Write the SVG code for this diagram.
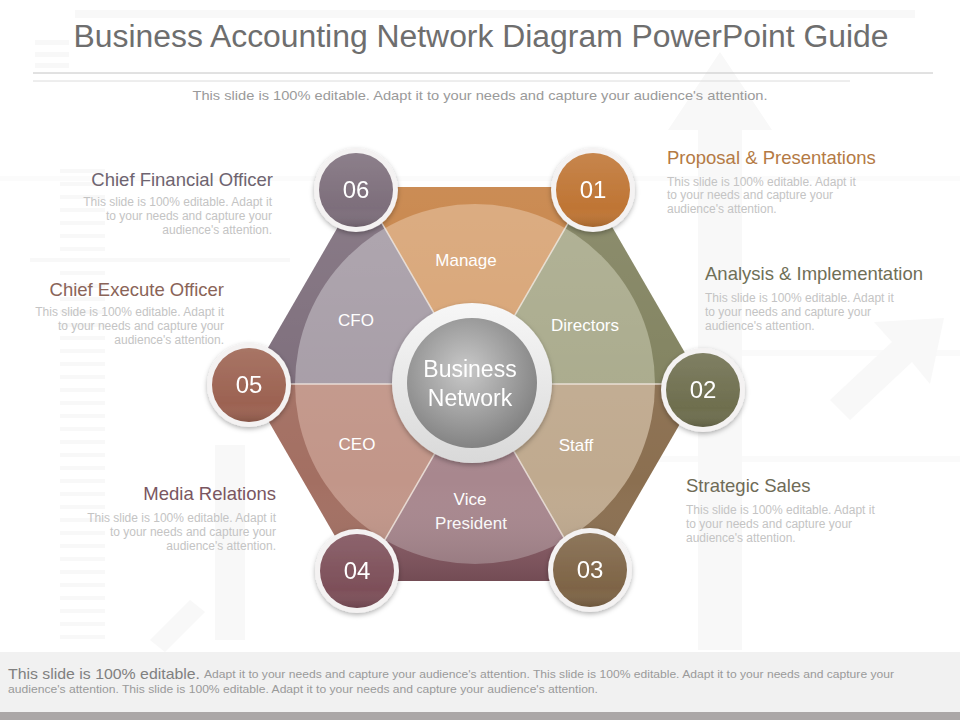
<svg xmlns="http://www.w3.org/2000/svg" width="960" height="720" viewBox="0 0 960 720">
<style>
text{font-family:"Liberation Sans",Arial,sans-serif}
.title{font-size:31px;fill:#6e6e6e}
.sub{font-size:13px;fill:#9a9a9a}
.head{font-size:18.5px}
.body{font-size:12px;fill:#c4c4c4}
.seg{font-size:17px;fill:#ffffff;text-anchor:middle}
.num{font-size:24px;fill:#ffffff;text-anchor:middle}
.ctr{font-size:23px;fill:#ffffff;text-anchor:middle}
.r{text-anchor:end}
.bg{fill:#f8f8f8}
.div{stroke:#f4ede6;stroke-width:1.5;opacity:0.8}
</style>
<defs>
<filter id="sh" x="-30%" y="-30%" width="160%" height="160%">
<feDropShadow dx="0" dy="2" stdDeviation="2.5" flood-color="#000" flood-opacity="0.3"/>
</filter>
<clipPath id="inner"><circle cx="475" cy="384" r="180"/></clipPath>
<radialGradient id="cg" cx="0.45" cy="0.4" r="0.65">
<stop offset="0" stop-color="#c9c9c9"/>
<stop offset="1" stop-color="#7d7d7d"/>
</radialGradient>
<linearGradient id="ring" x1="0" y1="0" x2="0" y2="1">
<stop offset="0" stop-color="#f7f7f7"/>
<stop offset="1" stop-color="#d9d9d9"/>
</linearGradient>
<linearGradient id="shade" x1="0" y1="0" x2="0" y2="1">
<stop offset="0" stop-color="#fff" stop-opacity="0.12"/>
<stop offset="0.75" stop-color="#fff" stop-opacity="0"/>
<stop offset="1" stop-color="#000" stop-opacity="0.15"/>
</linearGradient>
</defs>

<rect width="960" height="720" fill="#ffffff"/>

<g id="background">
<rect class="bg" x="75" y="10" width="840" height="8"/>
<rect class="bg" x="35" y="40" width="34" height="5"/>
<rect class="bg" x="35" y="52" width="34" height="5"/>
<rect class="bg" x="35" y="63" width="34" height="5"/>
<rect class="bg" x="60" y="169" width="45" height="4"/>
<rect class="bg" x="60" y="182" width="45" height="4"/>
<rect class="bg" x="60" y="195" width="45" height="4"/>
<rect class="bg" x="60" y="208" width="45" height="4"/>
<rect class="bg" x="60" y="221" width="45" height="4"/>
<rect class="bg" x="60" y="234" width="45" height="4"/>
<rect class="bg" x="60" y="247" width="45" height="4"/>
<rect class="bg" x="30" y="258" width="260" height="4"/>
<rect class="bg" x="60" y="271" width="45" height="4"/>
<rect class="bg" x="60" y="284" width="45" height="4"/>
<rect class="bg" x="60" y="297" width="45" height="4"/>
<rect class="bg" x="60" y="310" width="45" height="4"/>
<rect class="bg" x="60" y="323" width="45" height="4"/>
<rect class="bg" x="60" y="336" width="45" height="4"/>
<rect class="bg" x="60" y="349" width="45" height="4"/>
<rect class="bg" x="60" y="362" width="45" height="4"/>
<rect class="bg" x="60" y="375" width="45" height="4"/>
<rect class="bg" x="60" y="388" width="45" height="4"/>
<rect class="bg" x="60" y="401" width="45" height="4"/>
<rect class="bg" x="60" y="414" width="45" height="4"/>
<rect class="bg" x="60" y="427" width="45" height="4"/>
<rect class="bg" x="60" y="440" width="45" height="4"/>
<rect class="bg" x="60" y="453" width="45" height="4"/>
<rect class="bg" x="60" y="466" width="45" height="4"/>
<rect class="bg" x="60" y="479" width="45" height="4"/>
<rect class="bg" x="60" y="492" width="45" height="4"/>
<rect class="bg" x="60" y="505" width="45" height="4"/>
<rect class="bg" x="60" y="518" width="45" height="4"/>
<rect class="bg" x="60" y="531" width="45" height="4"/>
<rect class="bg" x="60" y="544" width="45" height="4"/>
<rect class="bg" x="60" y="557" width="45" height="4"/>
<rect class="bg" x="60" y="570" width="45" height="4"/>
<rect class="bg" x="60" y="583" width="45" height="4"/>
<rect class="bg" x="60" y="596" width="45" height="4"/>
<rect class="bg" x="60" y="609" width="45" height="4"/>
<rect class="bg" x="60" y="622" width="45" height="4"/>
<rect class="bg" x="60" y="635" width="45" height="4"/>
<rect class="bg" x="0" y="176" width="960" height="5" opacity="0.6"/>
<rect class="bg" x="640" y="350" width="320" height="6" opacity="0.7"/>
<rect class="bg" x="640" y="456" width="320" height="6" opacity="0.7"/>
<polygon class="bg" points="720,52 772,130 742,130 742,650 698,650 698,130 668,130"/>
<polygon class="bg" points="944,318 930,384 912,362 850,420 830,400 892,342 874,322"/>
<polygon class="bg" points="215,445 245,445 245,640 215,640"/>
<polygon class="bg" points="150,640 190,600 205,612 165,652"/>
</g>

<g id="header">
<text class="title" x="481" y="47" text-anchor="middle" textLength="815" lengthAdjust="spacingAndGlyphs">Business Accounting Network Diagram PowerPoint Guide</text>
<line x1="33" y1="73" x2="933" y2="73" stroke="#c4c4c4" stroke-width="1"/>
<line x1="33" y1="81" x2="850" y2="81" stroke="#dcdcdc" stroke-width="1"/>
<text class="sub" x="480" y="100" text-anchor="middle" textLength="575" lengthAdjust="spacingAndGlyphs">This slide is 100% editable. Adapt it to your needs and capture your audience's attention.</text>
</g>

<g id="hexagon">
<g id="seg-manage">
<polygon points="361,187 589,187 475,384" fill="#c47d3e"/>
<polygon points="361,187 589,187 475,384" fill="#d7a272" clip-path="url(#inner)"/>
<text class="seg" x="466" y="266">Manage</text>
</g>
<g id="seg-directors">
<polygon points="589,187 703,384 475,384" fill="#7e7f5b"/>
<polygon points="589,187 703,384 475,384" fill="#a8a98a" clip-path="url(#inner)"/>
<text class="seg" x="585" y="331">Directors</text>
</g>
<g id="seg-staff">
<polygon points="703,384 589,581 475,384" fill="#8b6f50"/>
<polygon points="703,384 589,581 475,384" fill="#c0aa8f" clip-path="url(#inner)"/>
<text class="seg" x="576" y="451">Staff</text>
</g>
<g id="seg-vp">
<polygon points="589,581 361,581 475,384" fill="#875963"/>
<polygon points="589,581 361,581 475,384" fill="#a8878e" clip-path="url(#inner)"/>
<text class="seg" x="470" y="505">Vice</text>
<text class="seg" x="471" y="529">President</text>
</g>
<g id="seg-ceo">
<polygon points="361,581 247,384 475,384" fill="#a36f62"/>
<polygon points="361,581 247,384 475,384" fill="#c29689" clip-path="url(#inner)"/>
<text class="seg" x="357" y="450">CEO</text>
</g>
<g id="seg-cfo">
<polygon points="247,384 361,187 475,384" fill="#7a6a78"/>
<polygon points="247,384 361,187 475,384" fill="#a59ba5" clip-path="url(#inner)"/>
<text class="seg" x="356" y="326">CFO</text>
</g>
<polygon points="361,187 589,187 703,384 589,581 361,581 247,384" fill="url(#shade)"/>
</g>

<g id="connectors">
<line class="div" x1="475" y1="384" x2="361" y2="187"/>
<line class="div" x1="475" y1="384" x2="589" y2="187"/>
<line class="div" x1="475" y1="384" x2="703" y2="384"/>
<line class="div" x1="475" y1="384" x2="589" y2="581"/>
<line class="div" x1="475" y1="384" x2="361" y2="581"/>
<line class="div" x1="475" y1="384" x2="247" y2="384"/>
</g>

<g id="center" filter="url(#sh)">
<circle cx="472" cy="383" r="80" fill="url(#ring)"/>
<circle cx="472" cy="383" r="65" fill="url(#cg)"/>
<text class="ctr" x="470" y="377">Business</text>
<text class="ctr" x="470" y="406">Network</text>
</g>

<g id="node-06" filter="url(#sh)">
<circle cx="356" cy="190" r="42" fill="#f4f2f2"/>
<circle cx="356" cy="190" r="37" fill="#7d6e7b"/>
<circle cx="356" cy="190" r="37" fill="url(#shade)"/>
<text class="num" x="356" y="198">06</text>
</g>
<g id="node-01" filter="url(#sh)">
<circle cx="593" cy="190" r="42" fill="#f4f2f2"/>
<circle cx="593" cy="190" r="37" fill="#bf7534"/>
<circle cx="593" cy="190" r="37" fill="url(#shade)"/>
<text class="num" x="593" y="198">01</text>
</g>
<g id="node-02" filter="url(#sh)">
<circle cx="703" cy="390" r="42" fill="#f4f2f2"/>
<circle cx="703" cy="390" r="37" fill="#6e6e4e"/>
<circle cx="703" cy="390" r="37" fill="url(#shade)"/>
<text class="num" x="703" y="398">02</text>
</g>
<g id="node-03" filter="url(#sh)">
<circle cx="590" cy="570" r="42" fill="#f4f2f2"/>
<circle cx="590" cy="570" r="37" fill="#7e6446"/>
<circle cx="590" cy="570" r="37" fill="url(#shade)"/>
<text class="num" x="590" y="578">03</text>
</g>
<g id="node-04" filter="url(#sh)">
<circle cx="357" cy="571" r="42" fill="#f4f2f2"/>
<circle cx="357" cy="571" r="37" fill="#7d4f59"/>
<circle cx="357" cy="571" r="37" fill="url(#shade)"/>
<text class="num" x="357" y="579">04</text>
</g>
<g id="node-05" filter="url(#sh)">
<circle cx="249" cy="385" r="42" fill="#f4f2f2"/>
<circle cx="249" cy="385" r="37" fill="#9c6251"/>
<circle cx="249" cy="385" r="37" fill="url(#shade)"/>
<text class="num" x="249" y="393">05</text>
</g>

<g id="label-01">
<text class="head" x="667" y="164" fill="#b47a44">Proposal &amp; Presentations</text>
<text class="body" x="667" y="186">This slide is 100% editable. Adapt it</text>
<text class="body" x="667" y="199">to your needs and capture your</text>
<text class="body" x="667" y="213">audience's attention.</text>
</g>
<g id="label-02">
<text class="head" x="705" y="280" fill="#6f6f57">Analysis &amp; Implementation</text>
<text class="body" x="705" y="302">This slide is 100% editable. Adapt it</text>
<text class="body" x="705" y="316">to your needs and capture your</text>
<text class="body" x="705" y="330">audience's attention.</text>
</g>
<g id="label-03">
<text class="head" x="686" y="492" fill="#6f6b57">Strategic Sales</text>
<text class="body" x="686" y="514">This slide is 100% editable. Adapt it</text>
<text class="body" x="686" y="528">to your needs and capture your</text>
<text class="body" x="686" y="542">audience's attention.</text>
</g>
<g id="label-06">
<text class="head r" x="273" y="186" fill="#6e6470">Chief Financial Officer</text>
<text class="body r" x="272" y="206">This slide is 100% editable. Adapt it</text>
<text class="body r" x="272" y="220">to your needs and capture your</text>
<text class="body r" x="272" y="234">audience's attention.</text>
</g>
<g id="label-05">
<text class="head r" x="224" y="296" fill="#8a6458">Chief Execute Officer</text>
<text class="body r" x="224" y="316">This slide is 100% editable. Adapt it</text>
<text class="body r" x="224" y="330">to your needs and capture your</text>
<text class="body r" x="224" y="344">audience's attention.</text>
</g>
<g id="label-04">
<text class="head r" x="276" y="500" fill="#7a5661">Media Relations</text>
<text class="body r" x="276" y="522">This slide is 100% editable. Adapt it</text>
<text class="body r" x="276" y="536">to your needs and capture your</text>
<text class="body r" x="276" y="550">audience's attention.</text>
</g>

<g id="footer">
<rect x="0" y="652" width="960" height="60" fill="#f1f1f1"/>
<rect x="0" y="712" width="960" height="8" fill="#aba7a7"/>
<text x="8" y="679" font-size="15" fill="#808080" textLength="192" lengthAdjust="spacingAndGlyphs">This slide is 100% editable.</text>
<text x="204" y="678" font-size="11" fill="#9a9a9a" textLength="690" lengthAdjust="spacingAndGlyphs">Adapt it to your needs and capture your audience's attention. This slide is 100% editable. Adapt it to your needs and capture your</text>
<text x="8" y="693" font-size="11" fill="#9a9a9a" textLength="590" lengthAdjust="spacingAndGlyphs">audience's attention. This slide is 100% editable. Adapt it to your needs and capture your audience's attention.</text>
</g>
</svg>
